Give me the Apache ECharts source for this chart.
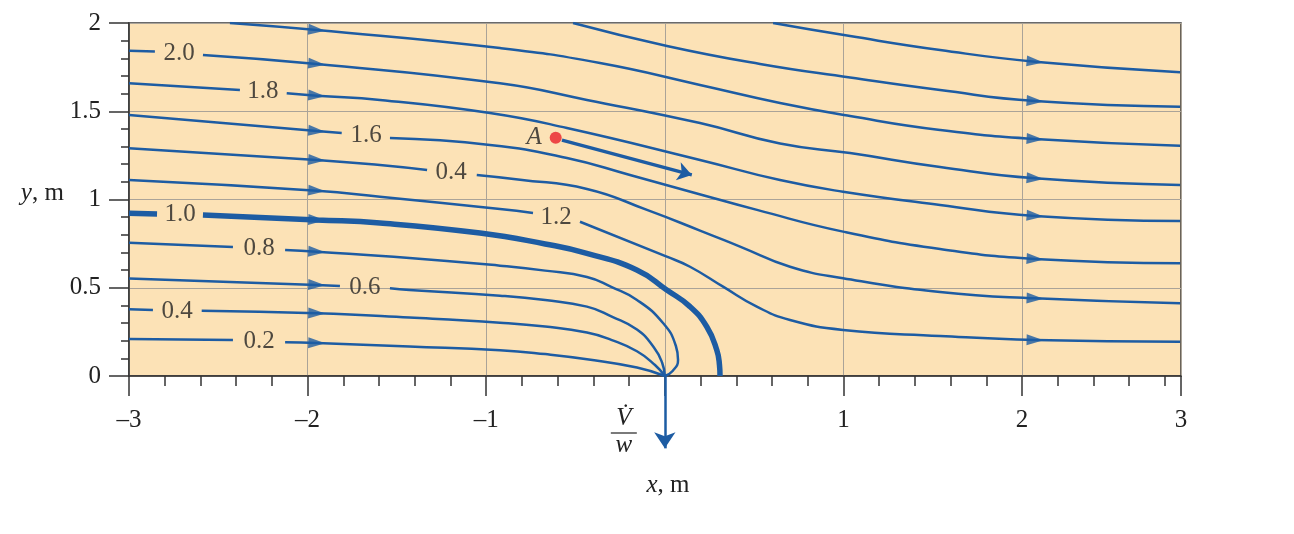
<!DOCTYPE html>
<html><head><meta charset="utf-8">
<script src="https://cdn.jsdelivr.net/npm/echarts@6/dist/echarts.min.js"></script>
<style>html,body{margin:0;padding:0;background:#fff}#c{width:1294px;height:534px}</style>
</head><body><div id="c"></div>
<script>
// ---- tick labels ----
const xTickValues = [-3, -2, -1, 0, 1, 2, 3];
const xTickLabels = ['\u20133', '\u20132', '\u20131', '', '1', '2', '3'];
const yTickLabels = ['0', '0.5', '1', '1.5', '2'];

// ---- streamlines (x, y in m); null = gap for the contour label ----
const psi02 = [[-3.0,0.210],[-2.418,0.204],null,[-2.126,0.191],[-1.949,0.187],[-1.43,0.167],[-0.923,0.146],[-0.67,0.124],[-0.436,0.095],[-0.156,0.048],[0,0]];
const psi04 = [[-3.0,0.378],[-2.866,0.374],null,[-2.593,0.370],[-1.949,0.355],[-1.43,0.331],[-0.923,0.302],[-0.67,0.280],[-0.436,0.246],[-0.3,0.205],[-0.156,0.140],[-0.055,0.062],[0,0]];
const psi06 = [[-3.0,0.553],[-1.949,0.516],[-1.819,0.510],null,[-1.539,0.497],[-1.43,0.487],[-0.923,0.455],[-0.67,0.430],[-0.436,0.393],[-0.3,0.338],[-0.156,0.263],[-0.060,0.160],[-0.015,0.075],[0,0]];
const psi08 = [[-3.0,0.755],[-2.418,0.731],null,[-2.126,0.714],[-1.949,0.704],[-1.43,0.669],[-0.923,0.625],[-0.67,0.597],[-0.436,0.561],[-0.3,0.505],[-0.156,0.431],[-0.010,0.300],[0.062,0.170],[0.074,0.091],[0.045,0.030],[0,0]];
const psi10 = [[-3.0,0.922],[-2.843,0.918],null,[-2.586,0.912],[-1.949,0.884],[-1.595,0.867],[-1.035,0.810],[-0.67,0.748],[-0.437,0.695],[-0.157,0.601],[0.011,0.487],[0.141,0.393],[0.235,0.279],[0.291,0.147],[0.306,0.062],[0.309,0]];
const psi12 = [[-3.0,1.110],[-1.949,1.050],[-1.595,1.016],[-0.923,0.946],[-0.738,0.924],null,[-0.475,0.874],[0.011,0.676],[0.141,0.619],[0.326,0.506],[0.515,0.393],[0.701,0.317],[0.998,0.261],[1.541,0.227],[2.073,0.204],[2.885,0.194]];
const psi14 = [[-3.0,1.290],[-1.949,1.224],[-1.595,1.195],[-1.331,1.167],null,[-1.053,1.139],[-0.810,1.112],[-0.436,1.060],[-0.100,0.941],[0.197,0.824],[0.421,0.733],[0.701,0.619],[0.998,0.554],[1.541,0.476],[2.073,0.440],[2.885,0.412]];
const psi16 = [[-3.0,1.479],[-1.949,1.388],[-1.809,1.377],null,[-1.539,1.348],[-0.979,1.309],[-0.548,1.235],[-0.195,1.139],[0.169,1.037],[0.516,0.941],[0.998,0.818],[1.541,0.720],[2.073,0.663],[2.885,0.639]];
const psi18 = [[-3.0,1.658],[-2.379,1.620],null,[-2.117,1.602],[-1.949,1.588],[-1.595,1.564],[-0.979,1.490],[-0.548,1.405],[0.197,1.224],[0.645,1.110],[0.998,1.044],[1.541,0.969],[2.073,0.907],[2.885,0.878]];
const psi20 = [[-3.0,1.843],[-2.855,1.839],null,[-2.586,1.819],[-1.949,1.768],[-0.923,1.658],[-0.436,1.564],[0.197,1.433],[0.645,1.317],[1.037,1.263],[1.541,1.184],[2.073,1.120],[2.885,1.082]];
const top1 = [[-2.435,2.0],[-1.949,1.960],[-0.923,1.858],[-0.363,1.773],[0.197,1.649],[0.645,1.547],[1.037,1.473],[1.541,1.394],[2.073,1.343],[2.885,1.305]];
const top2 = [[-0.514,2.0],[0.012,1.870],[0.533,1.768],[1.037,1.691],[1.541,1.620],[2.073,1.558],[2.885,1.526]];
const top3 = [[0.606,2.0],[1.037,1.926],[1.541,1.847],[2.073,1.781],[2.885,1.721]];

// contour labels: text, x, y
const contourLabels = [
  ['2.0', -2.72, 1.83], ['1.8', -2.25, 1.615], ['1.6', -1.673, 1.365], ['0.4', -1.197, 1.156],
  ['1.2', -0.609, 0.901], ['1.0', -2.714, 0.918], ['0.8', -2.272, 0.725], ['0.6', -1.679, 0.504],
  ['0.4', -2.73, 0.368], ['0.2', -2.272, 0.198]
];
// arrowheads sit on the streamline points at these x
const arrowX = [-1.949, 2.073];
// point A and its velocity arrow; sink arrow
const pointA = [-0.611, 1.350];
const arrowA = [[-0.576, 1.337], [0.151, 1.139]];
const sinkArrow = [[0, 0], [0, -0.41]];

const BLUE = '#1d5ca3';
const SERIF = '"Liberation Serif","Times New Roman",serif';
const streamlines = [
  {d: psi02, w: 2.5}, {d: psi04, w: 2.5}, {d: psi06, w: 2.5}, {d: psi08, w: 2.5},
  {d: psi10, w: 5.5}, {d: psi12, w: 2.5}, {d: psi14, w: 2.5}, {d: psi16, w: 2.5},
  {d: psi18, w: 2.5}, {d: psi20, w: 2.5}, {d: top1, w: 2.5}, {d: top2, w: 2.5}, {d: top3, w: 2.5}
];

const chart = echarts.init(document.getElementById('c'), null, {renderer: 'canvas'});

const lineSeries = streamlines.map(s => ({
  type: 'line', silent: true, showSymbol: false, symbol: 'none', smooth: 0.5,
  data: s.d.map(p => p ? p : ['-', '-']),
  lineStyle: {color: BLUE, width: s.w}, z: 3, animation: false
}));

const option = {
  animation: false,
  grid: {left: 129, top: 23, width: 1052, height: 353, show: true,
         backgroundColor: '#fce2b6', borderColor: '#3a3a3a', borderWidth: 1.5},
  xAxis: {
    type: 'value', min: -3, max: 2.89, interval: 1,
    axisLine: {onZero: false, lineStyle: {color: '#333', width: 1.5}},
    axisTick: {length: 20, lineStyle: {color: '#333', width: 1.5}},
    minorTick: {show: true, splitNumber: 5, length: 10, lineStyle: {color: '#333', width: 1.5}},
    splitLine: {show: true, lineStyle: {color: '#aaa398', width: 1}},
    axisLabel: {margin: 32, fontFamily: SERIF, fontSize: 25, color: '#222', showMaxLabel: true, showMinLabel: true,
      formatter: v => { const i = xTickValues.indexOf(Math.round(v)); return i >= 0 ? xTickLabels[i] : ''; }},
    name: '{i|x}, m', nameLocation: 'middle', nameGap: 97,
    nameTextStyle: {fontFamily: SERIF, fontSize: 25, color: '#222', padding: [0, 0, 0, 26],
      rich: {i: {fontFamily: SERIF, fontSize: 25, fontStyle: 'italic', color: '#222'}}}
  },
  yAxis: {
    type: 'value', min: 0, max: 2, interval: 0.5,
    axisLine: {onZero: false, lineStyle: {color: '#333', width: 1.5}},
    axisTick: {length: 20, lineStyle: {color: '#333', width: 1.5}},
    minorTick: {show: true, splitNumber: 5, length: 8, lineStyle: {color: '#333', width: 1.5}},
    splitLine: {show: true, lineStyle: {color: '#aaa398', width: 1}},
    axisLabel: {margin: 28, fontFamily: SERIF, fontSize: 25, color: '#222',
      formatter: v => yTickLabels[Math.round(v * 2)]},
    name: '{i|y}, m', nameLocation: 'middle', nameRotate: 0, nameGap: 61,
    nameTextStyle: {fontFamily: SERIF, fontSize: 25, color: '#222', align: 'right', padding: [0, 0, 12, 0],
      rich: {i: {fontFamily: SERIF, fontSize: 25, fontStyle: 'italic', color: '#222'}}}
  },
  series: lineSeries.concat([
    {
      type: 'scatter', silent: true, symbolSize: 1, itemStyle: {color: 'rgba(0,0,0,0)'}, z: 5,
      data: contourLabels.map(l => ({value: [l[1], l[2]], name: l[0]})),
      label: {show: true, position: 'inside', formatter: p => p.name,
              fontFamily: SERIF, fontSize: 25, color: '#222'}
    },
    {
      type: 'lines', coordinateSystem: 'cartesian2d', silent: true, clip: false, z: 6,
      symbol: ['none', 'arrow'], symbolSize: 14,
      lineStyle: {color: BLUE, width: 3.4, opacity: 1, curveness: 0},
      data: [{coords: arrowA}]
    },
    {
      type: 'lines', coordinateSystem: 'cartesian2d', silent: true, clip: false, z: 6,
      symbol: ['none', 'arrow'], symbolSize: 16,
      lineStyle: {color: BLUE, width: 2.5, opacity: 1, curveness: 0},
      data: [{coords: sinkArrow}]
    },
    {
      type: 'scatter', silent: true, symbolSize: 12, z: 7,
      itemStyle: {color: '#e8202a'},
      data: [{value: pointA, name: 'A'}],
      label: {show: true, position: 'left', distance: 8, formatter: 'A',
              fontFamily: SERIF, fontSize: 25, fontStyle: 'italic', color: '#222'}
    }
  ])
};
chart.setOption(option);

// arrowheads oriented along each streamline
const arrowData = [];
streamlines.forEach(s => {
  s.d.forEach((p, i) => {
    if (!p) return;
    if (!arrowX.some(ax => Math.abs(p[0] - ax) < 1e-9)) return;
    const prev = s.d[i - 1] || p, next = s.d[i + 1] || p;
    const a = chart.convertToPixel({gridIndex: 0}, prev);
    const b = chart.convertToPixel({gridIndex: 0}, next);
    const ang = Math.atan2(-(b[1] - a[1]), b[0] - a[0]) * 180 / Math.PI;
    arrowData.push({value: p, symbolRotate: ang - 90});
  });
});
const p0 = chart.convertToPixel({gridIndex: 0}, [0, 0]);
chart.setOption({
  series: option.series.concat([{
    type: 'scatter', silent: true, symbol: 'triangle', symbolSize: [11, 17], z: 6,
    itemStyle: {color: BLUE}, data: arrowData
  }]),
  graphic: [
    {type: 'text', x: p0[0] - 41, y: p0[1] + 42, style: {text: 'V\u0307', font: 'italic 25px ' + SERIF, fill: '#222', align: 'center', verticalAlign: 'middle'}},
    {type: 'line', shape: {x1: p0[0] - 54, y1: p0[1] + 57, x2: p0[0] - 28, y2: p0[1] + 57}, style: {stroke: '#222', lineWidth: 1.2}},
    {type: 'text', x: p0[0] - 41, y: p0[1] + 69, style: {text: 'w', font: 'italic 25px ' + SERIF, fill: '#222', align: 'center', verticalAlign: 'middle'}}
  ]
});
</script></body></html>
